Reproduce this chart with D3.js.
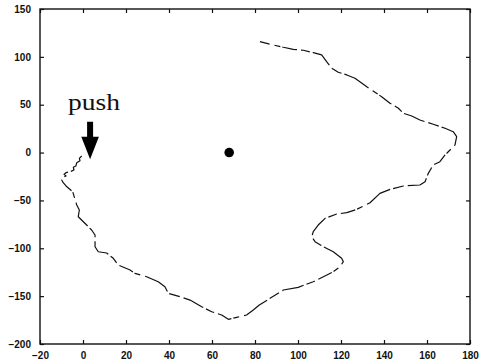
<!DOCTYPE html>
<html>
<head>
<meta charset="utf-8">
<script src="https://cdn.jsdelivr.net/npm/d3@7"></script>
<style>
  html, body { margin: 0; padding: 0; background: #fff; }
  svg { display: block; }
  .tick text { font-family: "Liberation Sans", Arial, sans-serif; font-weight: bold; font-size: 10px; fill: #111; }
</style>
</head>
<body>
<div id="chart"></div>
<script>
// Traced outline of the object (x, y), from the push contact point around to the top edge
const outlineX = [-0.6, -1.7, -1.4, -2.9, -3.3, -4.5, -4.2, -6.0, -7.9, -8.8, -7.9, -9.2, -9.9, -9.2, -7.9,
  -4.8, -2.9, -1.7, -2.2, 1.7, 4.0, 5.6, 5.6, 7.1, 11.0, 14.1, 16.4, 21.9, 24.2, 29.6, 35.0, 38.1, 39.7,
  45.1, 49.8, 55.2, 59.9, 64.5, 67.6, 71.5, 76.1, 79.2, 82.0, 87.0, 93.2, 100.1, 107.1, 111.8, 116.4,
  119.5, 121.1, 120.3, 116.4, 111.8, 107.9, 106.4, 107.1, 109.4, 112.6, 118.0, 122.7, 127.3, 133.5,
  138.1, 142.8, 149.0, 156.7, 159.1, 160.6, 162.9, 166.0, 168.4, 170.7, 173.0, 173.8, 172.2, 168.4,
  162.9, 156.7, 152.9, 149.0, 146.7, 142.8, 138.9, 132.0, 126.5, 122.7, 118.7, 115.7, 113.3, 111.0,
  107.1, 102.5, 97.8, 93.2, 88.5, 82.3];
const outlineY = [-3.6, -6.0, -8.5, -10.6, -14.0, -15.4, -18.2, -20.0, -21.0, -22.7, -24.5, -25.8, -28.7, -31.5, -34.9,
  -40.9, -54.8, -60.0, -67.0, -75.7, -80.9, -86.1, -98.4, -103.6, -104.9, -110.5, -117.5, -122.7, -126.2, -129.7, -134.9, -140.2, -147.1,
  -150.6, -154.1, -161.1, -166.3, -169.7, -174.2, -172.1, -169.7, -164.5, -159.3, -152.3, -143.6, -140.8, -134.9, -129.7, -124.5,
  -119.3, -114.0, -110.5, -103.6, -98.4, -93.1, -87.9, -82.7, -75.7, -68.7, -64.2, -62.8, -59.3, -52.4,
  -42.6, -38.4, -34.9, -33.9, -30.4, -21.7, -13.0, -9.5, -2.5, 2.7, 7.9, 16.6, 21.8, 25.4,
  29.6, 34.0, 38.2, 41.0, 46.3, 51.5, 58.4, 68.8, 77.6, 81.1, 83.9, 88.1, 95.0, 102.0,
  104.4, 106.9, 107.9, 110.0, 112.4, 115.9];

// Centre point
const centerX = [68];
const centerY = [0];

// Push annotation: arrow tip and label position
const pushLabel = ["push"];
const pushTip = [3.3, -7.0];
const pushText = [-7.0, 45.0];

// Axis ticks
const xTicks = [-20, 0, 20, 40, 60, 80, 100, 120, 140, 160, 180];
const yTicks = [-200, -150, -100, -50, 0, 50, 100, 150];

const W = 481, H = 362;
const m = { left: 40, top: 9, right: 11, bottom: 18 };
const iw = W - m.left - m.right, ih = H - m.top - m.bottom;

const x = d3.scaleLinear().domain([-20, 180]).range([0, iw]);
const y = d3.scaleLinear().domain([-200, 150]).range([ih, 0]);

const svg = d3.select("#chart").append("svg").attr("width", W).attr("height", H);
const g = svg.append("g").attr("transform", `translate(${m.left},${m.top})`);

// Axes with inward ticks on all four sides
function styleAxis(sel) {
  sel.select(".domain").remove();
  sel.selectAll(".tick line").attr("stroke", "#111").attr("stroke-width", 1.2);
}
g.append("g").attr("transform", `translate(0,${ih})`)
  .call(d3.axisBottom(x).tickValues(xTicks).tickSizeInner(-4).tickSizeOuter(0).tickPadding(8))
  .call(styleAxis);
g.append("g")
  .call(d3.axisTop(x).tickValues(xTicks).tickSizeInner(-4).tickSizeOuter(0).tickFormat(""))
  .call(styleAxis);
g.append("g")
  .call(d3.axisLeft(y).tickValues(yTicks).tickSizeInner(-4).tickSizeOuter(0).tickPadding(9))
  .call(styleAxis);
g.append("g").attr("transform", `translate(${iw},0)`)
  .call(d3.axisRight(y).tickValues(yTicks).tickSizeInner(-4).tickSizeOuter(0).tickFormat(""))
  .call(styleAxis);

// Frame
g.append("rect").attr("x", 0).attr("y", 0).attr("width", iw).attr("height", ih)
  .attr("fill", "none").attr("stroke", "#111").attr("stroke-width", 1.4);

// Outline trace (thin, broken stroke)
const pts = outlineX.map((v, i) => [v, outlineY[i]]);
const line = d3.line().x(d => x(d[0])).y(d => y(d[1]));
g.append("path").datum(pts).attr("d", line)
  .attr("fill", "none").attr("stroke", "#111").attr("stroke-width", 1.2)
  .attr("stroke-linejoin", "round")
  .attr("stroke-dasharray", "22,3,9,4,15,2,6,5,28,3,11,4");

// Centre dot
g.selectAll("circle.center").data(centerX).enter().append("circle")
  .attr("class", "center")
  .attr("cx", d => x(d)).attr("cy", (d, i) => y(centerY[i]))
  .attr("r", 4.8).attr("fill", "#000");

// Push arrow
const tx = x(pushTip[0]), ty = y(pushTip[1]);
g.append("path")
  .attr("d", `M${tx},${ty} L${tx - 8.8},${ty - 22.5} L${tx - 3},${ty - 22.5} L${tx - 3},${ty - 37.5} L${tx + 3},${ty - 37.5} L${tx + 3},${ty - 22.5} L${tx + 8.8},${ty - 22.5} Z`)
  .attr("fill", "#000");

g.append("text").text(pushLabel[0])
  .attr("x", x(pushText[0])).attr("y", y(pushText[1]))
  .attr("font-family", "'Liberation Serif', 'Times New Roman', serif")
  .attr("font-size", 24).attr("fill", "#111")
  .attr("textLength", 52).attr("lengthAdjust", "spacingAndGlyphs");
</script>
</body>
</html>
